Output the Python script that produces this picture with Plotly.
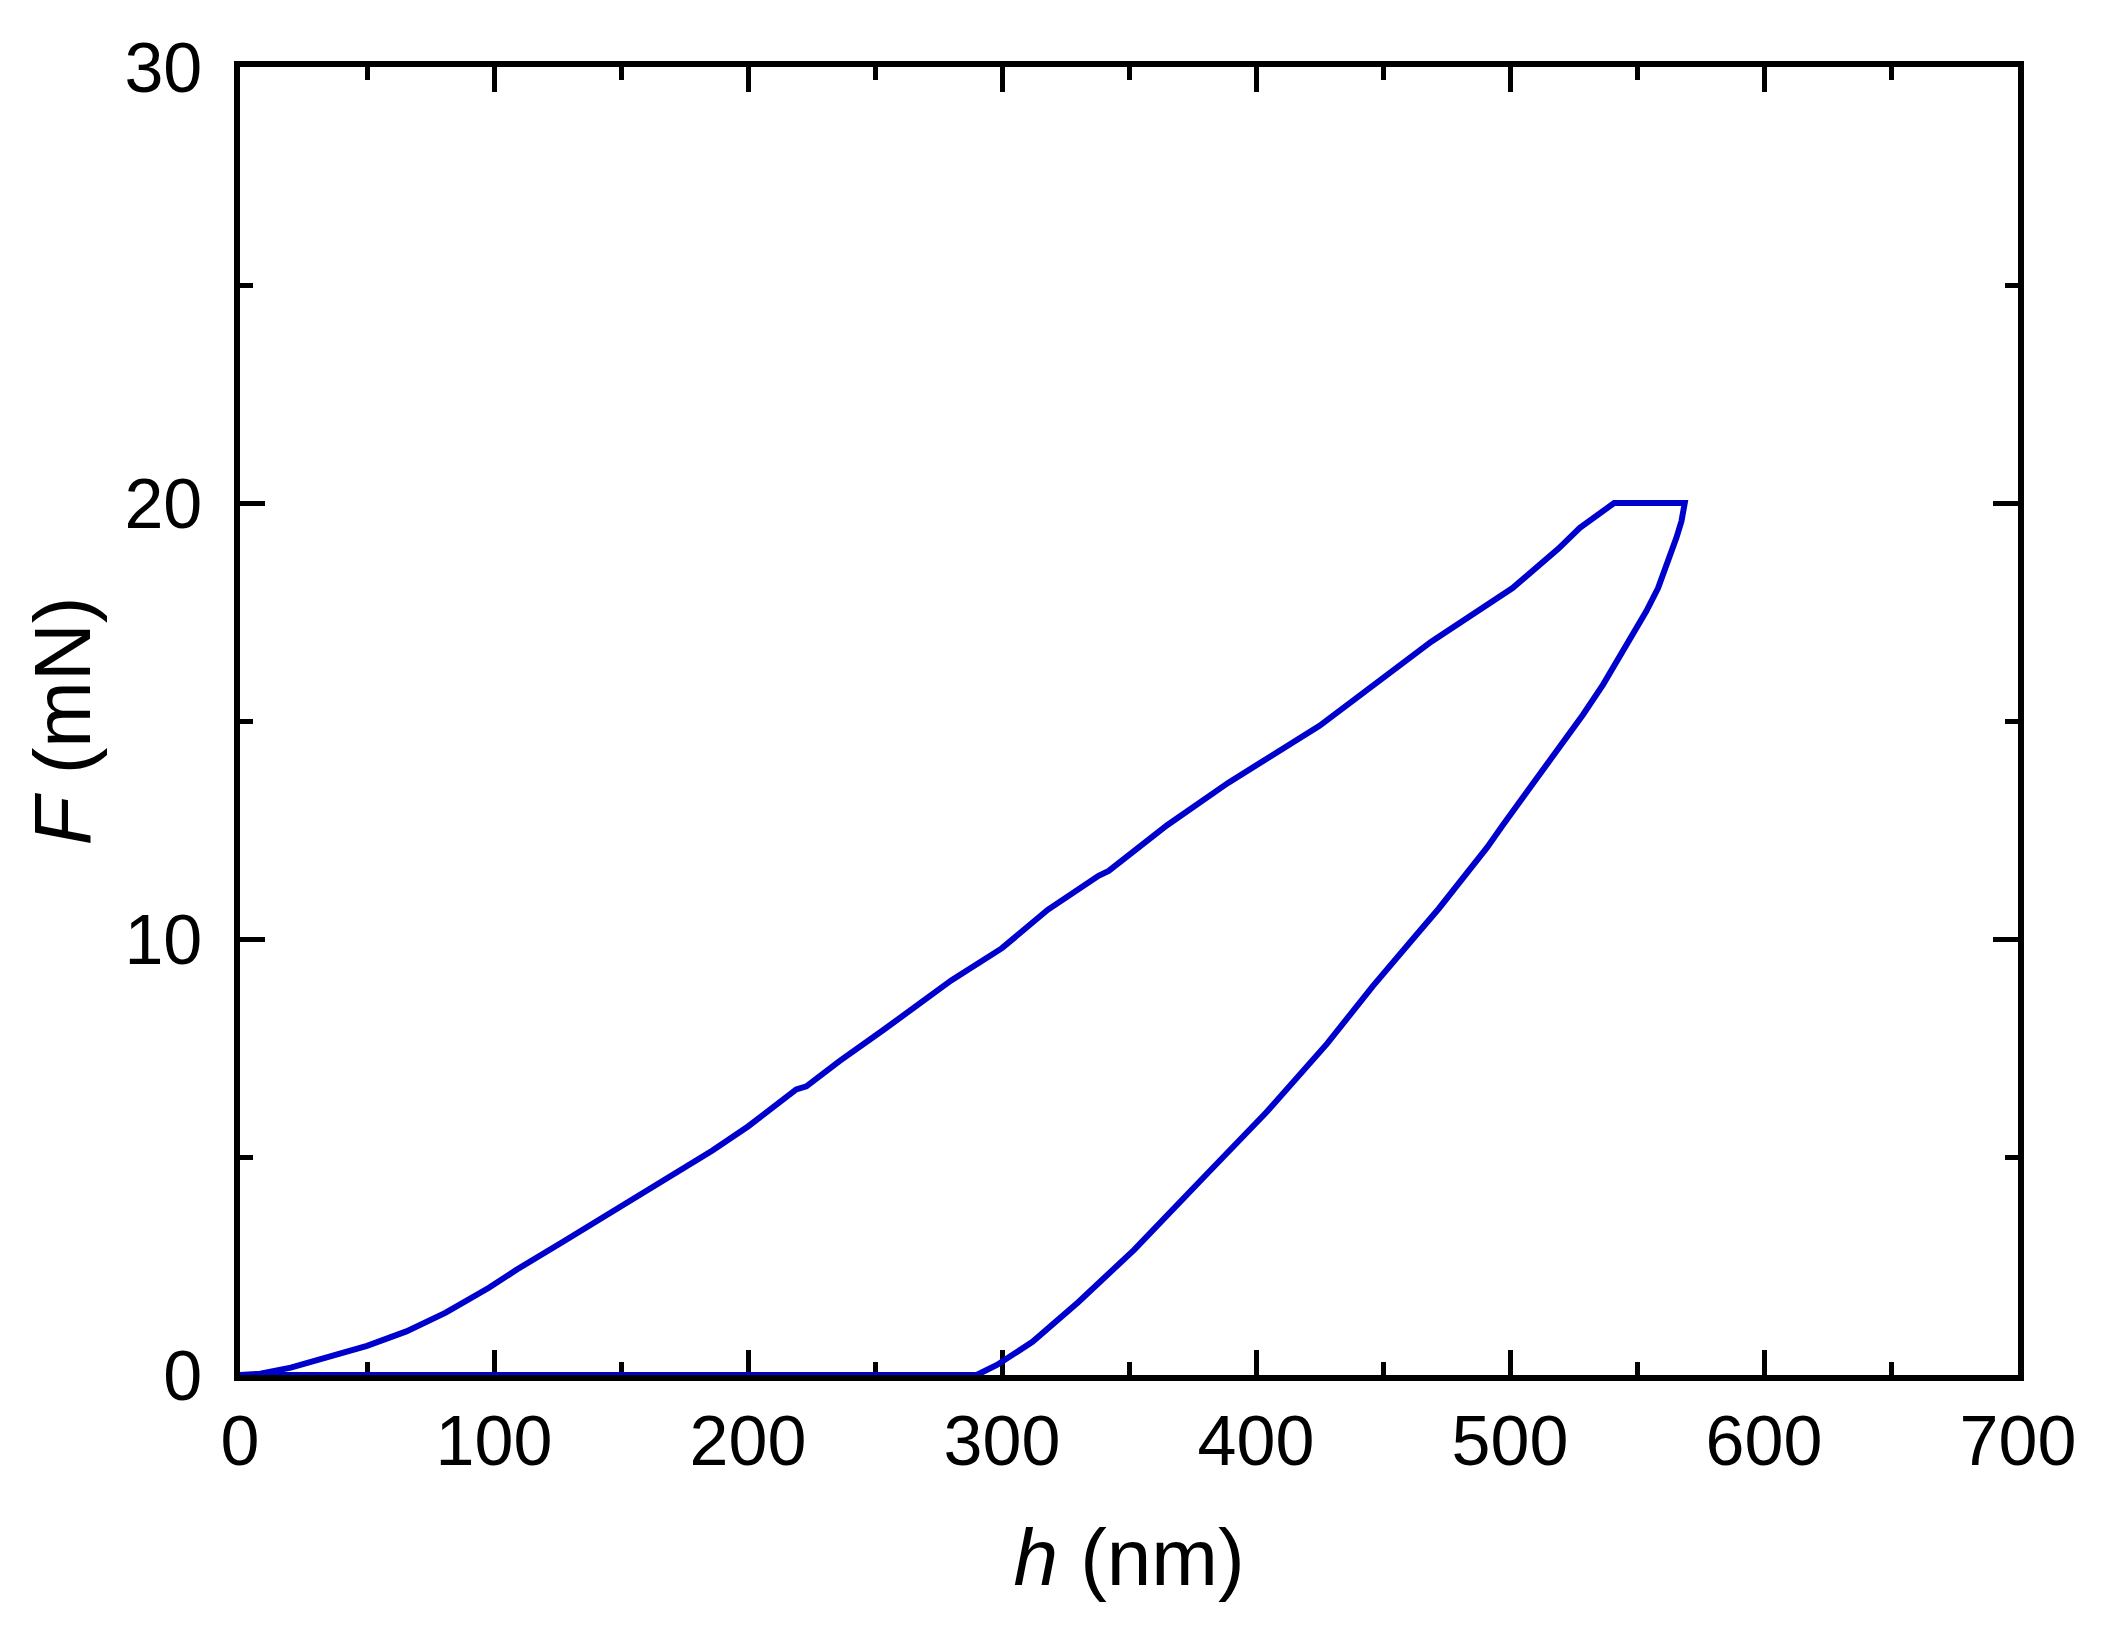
import plotly.graph_objects as go

# load-displacement curve
h_load = [0, 8, 20, 33, 50, 65.5, 81, 98, 109, 127, 146, 169, 186, 200, 211, 219, 223,
          236, 253, 260, 274, 280, 300, 318, 338, 342, 365, 389, 425, 469, 501, 519, 527.5, 533, 541]
F_load = [0, 0.03, 0.17, 0.4, 0.67, 1.0, 1.43, 2.0, 2.42, 3.05, 3.72, 4.55, 5.15, 5.7, 6.2, 6.55, 6.62,
          7.2, 7.9, 8.2, 8.8, 9.05, 9.79, 10.67, 11.45, 11.56, 12.61, 13.58, 14.89, 16.82, 18.05, 18.95, 19.43, 19.67, 20.0]

# hold at max load
h_hold = [568.8]
F_hold = [20.0]

# unloading, then tip back along zero force
h_unload = [567.5, 565.5, 562.2, 558.3, 553.7, 548.5, 543.2, 536.7, 528.8, 518, 509, 497, 491, 477, 472,
            461, 446, 428, 415, 404, 380, 352, 330, 312, 298, 290, 0]
F_unload = [19.58, 19.2, 18.66, 18.05, 17.52, 16.99, 16.45, 15.84, 15.15, 14.3, 13.6, 12.6, 12.1, 11.05, 10.7,
            9.95, 8.92, 7.6, 6.74, 6.02, 4.57, 2.87, 1.67, 0.76, 0.23, 0.0, 0.0]

h_all = h_load + h_hold + h_unload
F_all = F_load + F_hold + F_unload

fig = go.Figure()
fig.add_trace(go.Scatter(
    x=h_all, y=F_all,
    mode='lines',
    line=dict(color='#0000CD', width=6),
    showlegend=False
))

font = 'Arial, Liberation Sans, sans-serif'
axis_common = dict(
    showline=True, linewidth=5.5, linecolor='black',
    mirror='allticks', ticks='inside', ticklen=25, tickwidth=5, tickcolor='black',
    showgrid=False, zeroline=False, layer='below traces',
    tickfont=dict(family=font, size=70, color='black'),
)

fig.update_layout(
    width=2104, height=1627,
    margin=dict(l=232, r=94, t=59, b=260),
    plot_bgcolor='white', paper_bgcolor='white',
    xaxis=dict(
        range=[0, 700], tick0=0, dtick=100,
        minor=dict(dtick=50, ticks='inside', ticklen=13, tickwidth=5, tickcolor='black'),
        ticklabelstandoff=0,
        title=dict(text='<i>h</i> (nm)', font=dict(family=font, size=80, color='black'), standoff=52),
        **axis_common
    ),
    yaxis=dict(
        range=[0, 30], tick0=0, dtick=10,
        minor=dict(dtick=5, ticks='inside', ticklen=13, tickwidth=5, tickcolor='black'),
        ticklabelstandoff=18,
        title=dict(text='<i>F</i> (mN)', font=dict(family=font, size=80, color='black'), standoff=9),
        **axis_common
    ),
)

fig.write_html("out.html")
